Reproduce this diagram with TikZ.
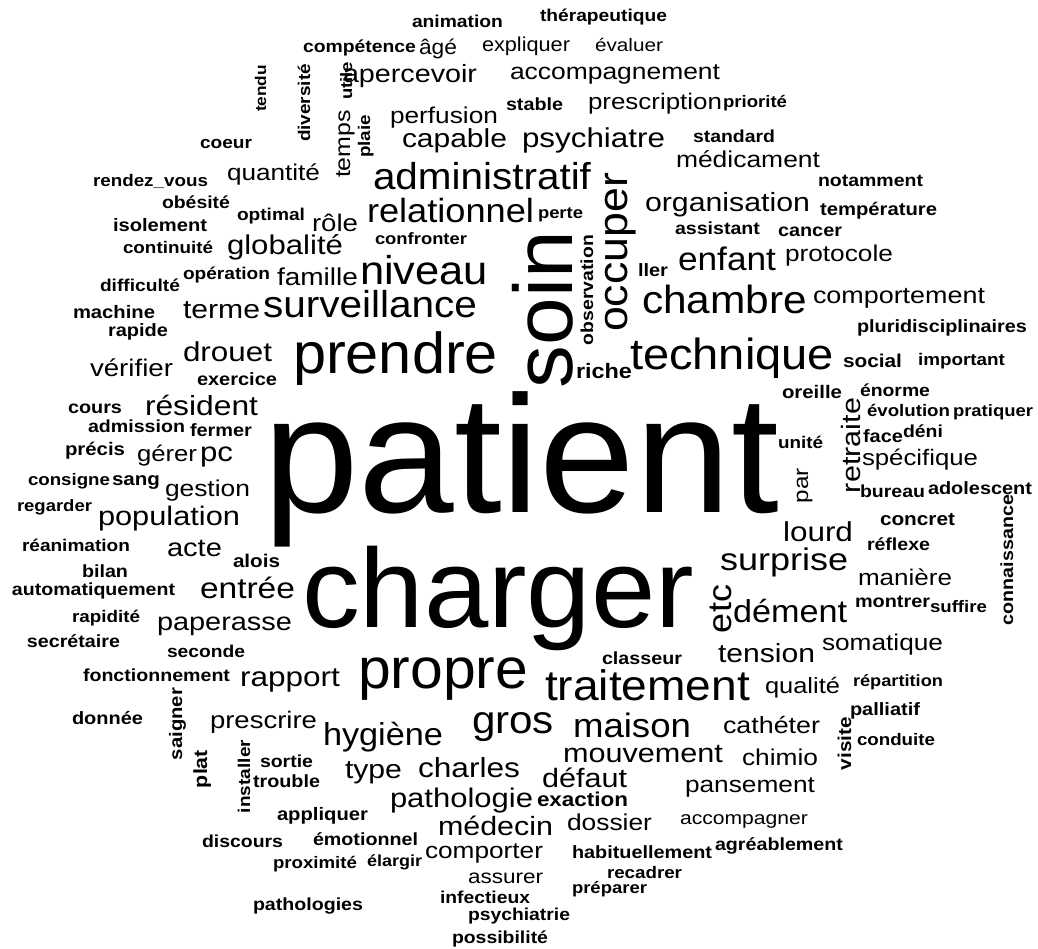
\documentclass[tikz,border=0pt]{standalone}
\usepackage{fontspec}
\setmainfont{Liberation Sans}
\usepackage{graphicx}
% word boxes: each word is scaled to a given width, with a slight horizontal stretch per size class
\newcommand\cwB[2]{\resizebox{#1pt}{!}{\scalebox{1.03}[1]{#2}}}
\newcommand\cwM[2]{\resizebox{#1pt}{!}{\scalebox{1.08}[1]{#2}}}
\newcommand\cwS[2]{\resizebox{#1pt}{!}{\scalebox{1.15}[1]{#2}}}
\newcommand\cwT[2]{\resizebox{#1pt}{!}{\scalebox{1.12}[1]{\bfseries #2}}}
\begin{document}
\begin{tikzpicture}[x=1pt,y=-1pt,
  word/.style={inner sep=0pt, outer sep=0pt, anchor=base west, text=black}]
\useasboundingbox (0,0) rectangle (1038,949);
% horizontal words: left x / baseline y / width / class / text
\foreach \wx/\wy/\ww/\wk/\wt [count=\i] in {
 412/28/91/T/animation, 540/22/127/T/thérapeutique, 303/53/113/T/compétence,
 419/55/38/M/âgé, 482/52/88/M/expliquer, 595/52/68/S/évaluer,
 343/83/134/S/apercevoir, 510/80/210/S/accompagnement, 506/111/57/T/stable,
 588/110/134/S/prescription, 723/108/64/T/priorité, 390/124/108/S/perfusion,
 402/148/105/S/capable, 522/148/143/S/psychiatre, 693/143/82/T/standard,
 676/168/144/S/médicament, 818/187/105/T/notamment, 200/149/52/T/coeur,
 227/181/93/S/quantité, 93/187/115/T/rendez\_vous, 373/190/218/M/administratif,
 162/209/68/T/obésité, 367/223/167/M/relationnel, 538/219/45/T/perte,
 645/212/165/S/organisation, 820/216/117/T/température, 237/221/68/T/optimal,
 113/232/94/T/isolement, 312/232/46/S/rôle, 675/235/85/T/assistant,
 778/237/64/T/cancer, 375/245/92/T/confronter, 123/254/90/T/continuité,
 227/255/116/S/globalité, 360/285/128/M/niveau, 785/262/108/S/protocole,
 678/271/98/M/enfant, 638/277/30/T/ller, 183/280/87/T/opération,
 277/286/81/S/famille, 100/292/80/T/difficulté, 813/304/172/S/comportement,
 642/313/165/M/chambre, 263/318/214/M/surveillance, 183/318/77/S/terme,
 73/319/82/T/machine, 857/333/170/T/pluridisciplinaires, 108/337/60/T/rapide,
 183/361/89/S/drouet, 843/367/59/T/social, 918/366/87/T/important,
 630/370/204/M/technique, 293/373/205/B/prendre, 90/376/83/S/vérifier,
 576/378/56/T/riche, 197/385/80/T/exercice, 860/396/70/T/énorme,
 782/398/60/T/oreille, 68/413/54/T/cours, 145/415/113/S/résident,
 953/416/80/T/pratiquer, 867/416/83/T/évolution, 88/432/97/T/admission,
 190/436/62/T/fermer, 903/437/40/T/déni, 863/442/40/T/face,
 778/448/45/T/unité, 65/455/60/T/précis, 137/461/60/S/gérer,
 200/461/33/S/pc, 862/465/116/S/spécifique, 263/512/515/B/patient,
 28/485/82/T/consigne, 112/485/48/T/sang, 165/496/85/S/gestion,
 860/497/65/T/bureau, 928/494/104/T/adolescent, 17/511/75/T/regarder,
 98/525/142/S/population, 880/525/75/T/concret, 783/541/70/S/lourd,
 867/550/63/T/réflexe, 22/551/108/T/réanimation, 167/556/55/S/acte,
 233/567/47/T/alois, 720/570/128/S/surprise, 82/577/46/T/bilan,
 858/585/94/S/manière, 12/595/163/T/automatiquement, 200/598/95/S/entrée,
 855/607/75/T/montrer, 930/612/57/T/suffire, 72/622/68/T/rapidité,
 733/622/114/M/dément, 302/627/392/B/charger, 157/630/135/S/paperasse,
 27/647/93/T/secrétaire, 822/650/121/S/somatique, 167/657/78/T/seconde,
 718/662/97/S/tension, 602/664/80/T/classeur, 83/681/147/T/fonctionnement,
 240/686/100/S/rapport, 358/688/170/B/propre, 853/686/90/T/répartition,
 765/693/75/S/qualité, 545/700/205/M/traitement, 850/715/70/T/palliatif,
 72/724/71/T/donnée, 210/728/107/S/prescrire, 472/733/82/M/gros,
 723/733/97/S/cathéter, 573/737/118/M/maison, 323/745/120/M/hygiène,
 857/745/78/T/conduite, 563/762/160/S/mouvement, 742/765/76/S/chimio,
 260/767/53/T/sortie, 418/777/102/S/charles, 345/778/57/S/type,
 542/787/85/S/défaut, 253/787/67/T/trouble, 685/792/130/S/pansement,
 390/807/143/S/pathologie, 537/806/91/T/exaction, 277/820/91/T/appliquer,
 680/824/128/S/accompagner, 567/830/85/S/dossier, 438/835/115/S/médecin,
 313/845/105/T/émotionnel, 202/847/81/T/discours, 715/850/128/T/agréablement,
 425/858/118/S/comporter, 572/858/140/T/habituellement, 367/866/55/T/élargir,
 273/868/84/T/proximité, 607/878/75/T/recadrer, 468/883/75/S/assurer,
 572/893/75/T/préparer, 440/903/90/T/infectieux, 253/910/110/T/pathologies,
 468/920/102/T/psychiatrie, 452/943/96/T/possibilité}
  \node[word] (w\i) at (\wx,\wy) {\csname cw\wk\endcsname{\ww}{\wt}};
% vertical words, read bottom to top: baseline x / lower end y / length / class / text
\foreach \wx/\wy/\ww/\wk/\wt [count=\i] in {
 266/112/47/T/tendu, 310/142/78/T/diversité, 352/100/38/T/utile,
 350/178/68/S/temps, 370/158/43/T/plaie, 572/388/157/B/soin,
 593/345/110/T/observation, 627/332/159/M/occuper, 860/493/95/S/retraite,
 808/503/35/S/par, 731/633/48/M/etc, 1013/625/130/T/connaissance,
 182/760/72/T/saigner, 207/788/38/T/plat, 250/813/73/T/installer,
 851/770/53/T/visite}
  \node[word, rotate=90] (v\i) at (\wx,\wy) {\csname cw\wk\endcsname{\ww}{\wt}};
\end{tikzpicture}
\end{document}
